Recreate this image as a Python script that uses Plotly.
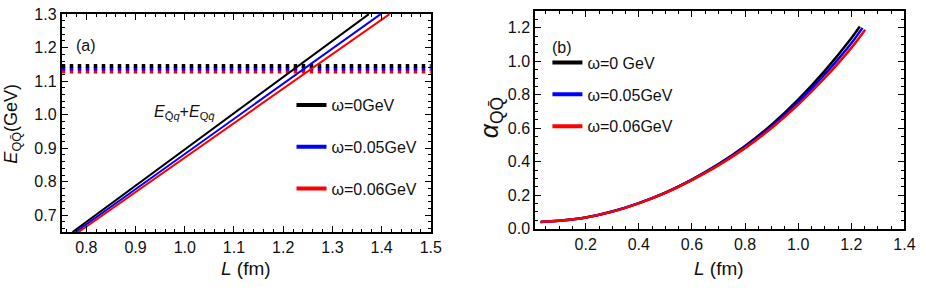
import plotly.graph_objects as go

# ---------------- data ----------------
labels_a = ["ω=0GeV", "ω=0.05GeV", "ω=0.06GeV"]
labels_b = ["ω=0 GeV", "ω=0.05GeV", "ω=0.06GeV"]
colors = ["#000000", "#0000ff", "#ff0000"]

# panel (a): E_QQbar vs L
L_a_black = [0.772, 0.9, 1.0, 1.1, 1.2, 1.3, 1.374]
E_a_black = [0.650, 0.788, 0.896, 1.004, 1.112, 1.220, 1.300]
L_a_blue = [0.778, 0.9, 1.0, 1.1, 1.2, 1.3, 1.398]
E_a_blue = [0.650, 0.778, 0.883, 0.987, 1.092, 1.197, 1.300]
L_a_red = [0.784, 0.9, 1.0, 1.1, 1.2, 1.3, 1.416]
E_a_red = [0.650, 0.769, 0.872, 0.975, 1.078, 1.181, 1.300]

# threshold E_{Qbar q}+E_{Q qbar} (dashed)
thr_L = [0.75, 1.5]
thr_black = 1.145
thr_blue = 1.138
thr_red = 1.129

# panel (b): alpha_QQbar vs L
L_b_black = [0.03, 0.1, 0.2, 0.3, 0.4, 0.5, 0.6, 0.7, 0.8, 0.9, 1.0, 1.1, 1.2, 1.232]
A_b_black = [0.040, 0.046, 0.066, 0.102, 0.152, 0.215, 0.293, 0.385, 0.493, 0.621, 0.771, 0.943, 1.138, 1.208]
L_b_blue = [0.03, 0.1, 0.2, 0.3, 0.4, 0.5, 0.6, 0.7, 0.8, 0.9, 1.0, 1.1, 1.2, 1.242]
A_b_blue = [0.040, 0.046, 0.066, 0.102, 0.152, 0.214, 0.292, 0.382, 0.488, 0.612, 0.757, 0.922, 1.108, 1.200]
L_b_red = [0.03, 0.1, 0.2, 0.3, 0.4, 0.5, 0.6, 0.7, 0.8, 0.9, 1.0, 1.1, 1.2, 1.252]
A_b_red = [0.040, 0.046, 0.066, 0.101, 0.151, 0.213, 0.290, 0.378, 0.481, 0.601, 0.741, 0.900, 1.080, 1.189]

# tick values
xt_a = [0.8, 0.9, 1.0, 1.1, 1.2, 1.3, 1.4, 1.5]
yt_a = [0.7, 0.8, 0.9, 1.0, 1.1, 1.2, 1.3]
xt_b = [0.2, 0.4, 0.6, 0.8, 1.0, 1.2, 1.4]
yt_b = [0.0, 0.2, 0.4, 0.6, 0.8, 1.0, 1.2]

FONT = "Liberation Sans, Arial, sans-serif"
TXT = "#111111"

fig = go.Figure()

# dashed thresholds (red first, black on top)
for yv, c in [(thr_red, colors[2]), (thr_blue, colors[1]), (thr_black, colors[0])]:
    fig.add_trace(go.Scatter(x=thr_L, y=[yv, yv], mode="lines",
                             line=dict(color=c, width=4, dash="3.5px,4.5px"),
                             showlegend=False, hoverinfo="skip",
                             xaxis="x", yaxis="y"))

series_a = [(L_a_black, E_a_black), (L_a_blue, E_a_blue), (L_a_red, E_a_red)]
for i, (xs, ys) in enumerate(series_a):
    fig.add_trace(go.Scatter(x=xs, y=ys, mode="lines", name=labels_a[i],
                             line=dict(color=colors[i], width=2),
                             showlegend=False, xaxis="x", yaxis="y"))
    fig.add_trace(go.Scatter(x=[None], y=[None], mode="lines", name=labels_a[i],
                             line=dict(color=colors[i], width=4),
                             legend="legend", legendgroup="a%d" % i,
                             xaxis="x", yaxis="y"))

series_b = [(L_b_black, A_b_black), (L_b_blue, A_b_blue), (L_b_red, A_b_red)]
for i, (xs, ys) in enumerate(series_b):
    fig.add_trace(go.Scatter(x=xs, y=ys, mode="lines", name=labels_b[i],
                             line=dict(color=colors[i], width=2.5, shape="spline"),
                             showlegend=False, xaxis="x2", yaxis="y2"))
    fig.add_trace(go.Scatter(x=[None], y=[None], mode="lines", name=labels_b[i],
                             line=dict(color=colors[i], width=4),
                             legend="legend2", legendgroup="b%d" % i,
                             xaxis="x2", yaxis="y2"))

W, H = 926, 290

def ax(rng, tvals, mdtick, mtick0, dom, anchor):
    return dict(range=rng, tickmode="array", tickvals=tvals,
                ticktext=["%.1f" % v for v in tvals],
                domain=dom, anchor=anchor,
                showgrid=False, zeroline=False, showline=True, linecolor="#000",
                linewidth=2, mirror="allticks", ticks="inside", ticklen=6,
                tickwidth=1, tickcolor="#000", ticklabeloverflow="allow",
                minor=dict(ticks="inside", dtick=mdtick, tick0=mtick0, ticklen=3,
                           tickcolor="#000", tickwidth=1, showgrid=False),
                tickfont=dict(family=FONT, size=16, color=TXT))

fig.update_layout(
    width=W, height=H,
    margin=dict(l=0, r=0, t=0, b=0),
    paper_bgcolor="white", plot_bgcolor="white",
    showlegend=True,
    xaxis=ax([0.75, 1.5], xt_a, 0.02, 0.8, [62.5 / W, 436 / W], "y"),
    yaxis=ax([0.65, 1.3], yt_a, 0.02, 0.7, [1 - 238 / H, 1 - 6.5 / H], "x"),
    xaxis2=ax([0.01, 1.4], xt_b, 0.05, 0.2, [541.7 / W, 915.3 / W], "y2"),
    yaxis2=ax([0.0, 1.3], yt_b, 0.05, 0.0, [1 - 234.3 / H, 1 - 3.3 / H], "x2"),
    legend=dict(x=295 / W, y=1 - 85 / H, xanchor="left", yanchor="top",
                bgcolor="rgba(0,0,0,0)", tracegroupgap=18,
                font=dict(family=FONT, size=16, color=TXT)),
    legend2=dict(x=554 / W, y=1 - 40 / H, xanchor="left", yanchor="top",
                 bgcolor="rgba(0,0,0,0)", tracegroupgap=8,
                 font=dict(family=FONT, size=16, color=TXT)),
)

ann = [
    dict(text="(a)", x=87 / W, y=1 - 40 / H, font=dict(size=16)),
    dict(text="(b)", x=569 / W, y=1 - 42 / H, font=dict(size=16)),
    dict(text="<i>E</i><sub>Q̄<i>q</i></sub>+<i>E</i><sub>Q<i>q̄</i></sub>",
         x=187 / W, y=1 - 111 / H, font=dict(size=16)),
    dict(text="<i>L</i> (fm)", x=249 / W, y=1 - 277 / H, font=dict(size=19)),
    dict(text="<i>L</i> (fm)", x=728 / W, y=1 - 277 / H, font=dict(size=19)),
    dict(text="<i>E</i><sub>QQ̄</sub>(GeV)", x=13 / W, y=1 - 123 / H,
         font=dict(size=18), textangle=-90),
    dict(text="<i>α</i><sub>QQ̄</sub>", x=497 / W, y=1 - 116 / H,
         font=dict(size=25), textangle=-90),
]
for a in ann:
    a.setdefault("xref", "paper")
    a.setdefault("yref", "paper")
    a.setdefault("showarrow", False)
    a.setdefault("xanchor", "center")
    a.setdefault("yanchor", "middle")
    a["font"] = dict(family=FONT, color=TXT, **a["font"])
fig.update_layout(annotations=ann)

fig.write_html("out.html", config={"displayModeBar": False},
               post_script="document.body.style.margin='0';")
